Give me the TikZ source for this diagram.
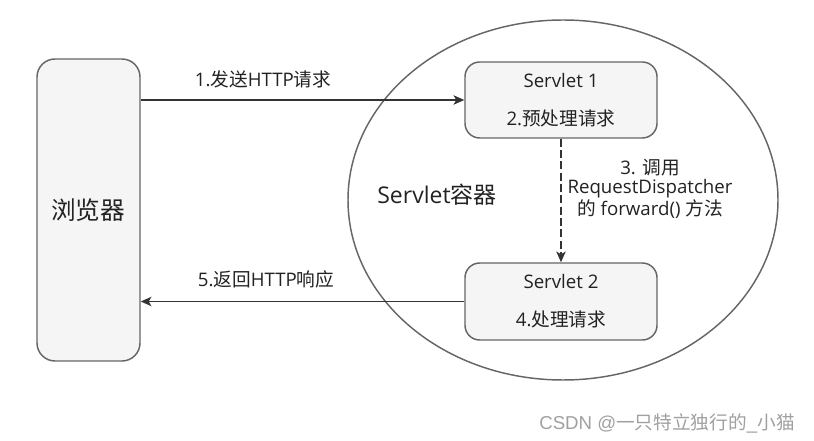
\documentclass[tikz,border=0pt]{standalone}
\usepackage{fontspec}
\setmainfont{Open Sans}
\newfontfamily\cjk{Noto Sans CJK SC}
\newfontfamily\wmfont{Liberation Sans}
\usetikzlibrary{arrows.meta,shapes.geometric}
\newcommand{\zh}[1]{{\cjk #1}}

\tikzset{every picture/.style={line width=0.75pt}}
\tikzset{
  roundbox/.style={draw={rgb,255:red,102;green,102;blue,102}, fill={rgb,255:red,245;green,245;blue,245}, line width=1.1pt, rounded corners=15, inner sep=0pt},
  flowarrow/.style={draw={rgb,255:red,51;green,51;blue,51}, line width=1.1pt, -{Stealth[length=8pt,width=7pt,inset=2pt]}},
  labeltext/.style={inner sep=0.75pt, font=\fontsize{14}{14.25}\selectfont, text={rgb,255:red,34;green,34;blue,34}, align=center}
}

\begin{document}
\begin{tikzpicture}[x=0.75pt,y=0.75pt,yscale=-1,xscale=1]
\useasboundingbox (0,0) rectangle (814,441);

%Ellipse [id:container]
\node [ellipse, draw={rgb,255:red,102;green,102;blue,102}, line width=1.1pt, minimum width=322.5pt, minimum height=270pt, inner sep=0pt] (container) at (563,200) {};

%Rounded Rect [id:browser]
\node [roundbox, rounded corners=13.5pt, minimum width=77.25pt, minimum height=226.5pt] (browser) at (88.5,210) {};
%Rounded Rect [id:servletone]
\node [roundbox, rounded corners=11pt, minimum width=144pt, minimum height=57pt, labeltext, font=\fontsize{14}{28.5}\selectfont] (servletone) at (561,100) {Servlet 1\\2.\zh{预处理请求}};
%Rounded Rect [id:servlettwo]
\node [roundbox, rounded corners=11pt, minimum width=144pt, minimum height=57.75pt, labeltext, font=\fontsize{14}{28.5}\selectfont] (servlettwo) at (561,301.5) {Servlet 2\\4.\zh{处理请求}};

%Straight Lines [id:request]
\draw [flowarrow] (browser.east |- servletone.west) -- (servletone.west) ;
%Straight Lines [id:forward]
\draw [flowarrow, dash pattern=on 6pt off 2.5pt] (servletone.south) -- (servlettwo.north) ;
%Straight Lines [id:response]
\draw [flowarrow] (servlettwo.west) -- (browser.east |- servlettwo.west) ;

% Text Node
\node [labeltext, font=\cjk\fontsize{18.5}{20}\selectfont] (browsertext) at (88,210) {浏览器};
% Text Node
\node [labeltext, font=\fontsize{17.25}{18}\selectfont] (containertext) at (437,195) {Servlet\zh{容器}};
% Text Node
\node [labeltext] (requesttext) at (263,79) {1.\zh{发送}HTTP\zh{请求}};
% Text Node
\node [labeltext] (responsetext) at (266,279) {5.\zh{返回}HTTP\zh{响应}};
% Text Node
\node [labeltext] (forwardtext) at (650,189) {3. \zh{调用}\\RequestDispatcher\\\zh{的} forward() \zh{方法}};
% Text Node
\node [inner sep=0.75pt, font=\wmfont\fontsize{14}{15}\selectfont, text={rgb,255:red,160;green,160;blue,160}] (watermark) at (667,423) {CSDN @\zh{一只特立独行的}\_\zh{小猫}};
\end{tikzpicture}
\end{document}
